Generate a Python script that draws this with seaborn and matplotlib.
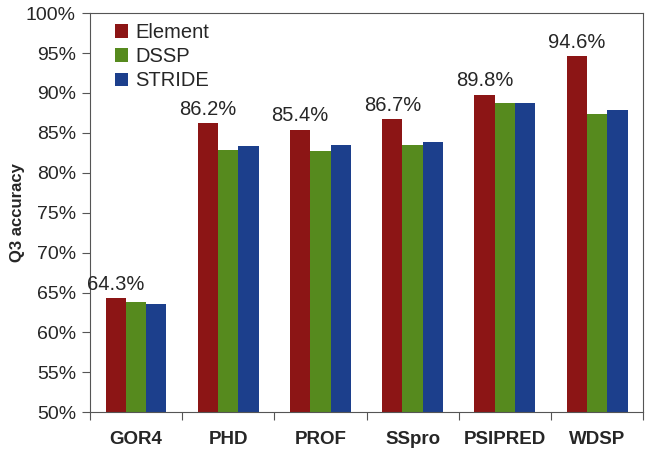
import numpy as np
import pandas as pd
import matplotlib
matplotlib.use('Agg')
import matplotlib.pyplot as plt
import seaborn as sns
from matplotlib.ticker import FixedLocator, PercentFormatter

METHODS = ['GOR4', 'PHD', 'PROF', 'SSpro', 'PSIPRED', 'WDSP']
SERIES = ['Element', 'DSSP', 'STRIDE']
ELEMENT = [64.3, 86.2, 85.4, 86.7, 89.8, 94.6]
DSSP = [63.8, 82.9, 82.7, 83.5, 88.8, 87.4]
STRIDE = [63.5, 83.3, 83.5, 83.8, 88.8, 87.9]
COLORS = ['#8C1515', '#568A1E', '#1C3F8C']

sns.set_style('white')
plt.rcParams['font.family'] = ['Liberation Sans', 'DejaVu Sans']

df = pd.DataFrame({
    'method': METHODS * 3,
    'series': sum([[s] * len(METHODS) for s in SERIES], []),
    'acc': ELEMENT + DSSP + STRIDE,
})

fig, ax = plt.subplots(figsize=(6.51, 4.53), dpi=100)
sns.barplot(data=df, x='method', y='acc', hue='series', hue_order=SERIES,
            order=METHODS, palette=COLORS, width=0.66, saturation=1,
            edgecolor='none', ax=ax)

ax.set_ylim(50, 100)
ax.set_xlim(-0.5, len(METHODS) - 0.5)
ax.yaxis.set_major_locator(FixedLocator(np.arange(50, 101, 5)))
ax.yaxis.set_major_formatter(PercentFormatter(decimals=0))
ax.tick_params(axis='y', which='major', left=True, direction='out', length=6,
               width=0.8, color='#555555', labelsize=14, pad=4)
ax.tick_params(axis='x', which='major', bottom=False, labelsize=13.5, pad=10)
ax.xaxis.set_minor_locator(FixedLocator(np.arange(-0.5, len(METHODS), 1)))
ax.tick_params(axis='x', which='minor', bottom=True, direction='out', length=6,
               width=0.8, color='#555555')
for lab in ax.get_xticklabels():
    lab.set_fontweight('bold')

ax.set_xlabel('')
ax.set_ylabel('Q3 accuracy', fontsize=12, fontweight='bold', labelpad=1)
for sp in ax.spines.values():
    sp.set_color('#555555')
    sp.set_linewidth(0.8)

# labels on Element bars
for bar, v in zip(ax.containers[0], ELEMENT):
    ax.text(bar.get_x() + bar.get_width() / 2, v + 0.55, f'{v:.1f}%',
            ha='center', va='bottom', fontsize=14.5)

ax.legend(loc='upper left', frameon=False, fontsize=14.5, handlelength=0.65,
          handleheight=0.65, handletextpad=0.35, labelspacing=0.25,
          bbox_to_anchor=(0.02, 1.01), borderaxespad=0.3)

plt.subplots_adjust(left=0.138, right=0.988, top=0.971, bottom=0.09)
fig.savefig('out.png', dpi=100)
